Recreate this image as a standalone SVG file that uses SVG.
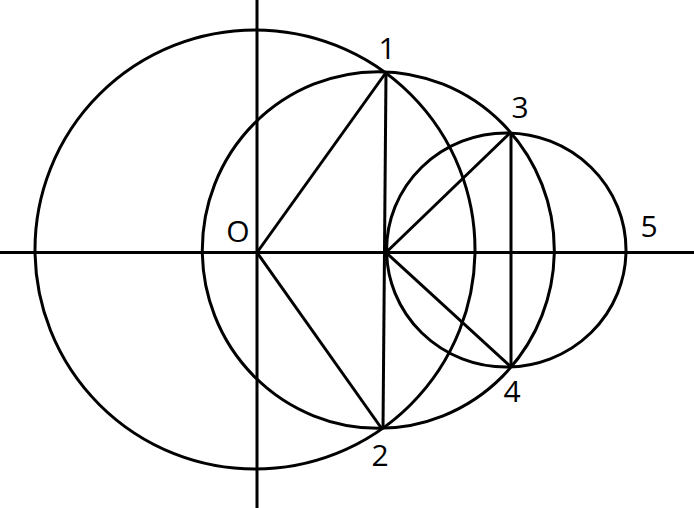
<svg xmlns="http://www.w3.org/2000/svg" width="694" height="508" viewBox="0 0 694 508">
<style>
.s{fill:none;stroke:#000;stroke-width:3}
.t{font-family:"Open Sans","Liberation Sans",sans-serif;font-size:30px;fill:#000;text-anchor:middle}
</style>
<rect width="694" height="508" fill="#fff"/>
<g id="circles">
<ellipse class="s" cx="255" cy="249.5" rx="220" ry="219.5"/>
<ellipse class="s" cx="378.3" cy="250" rx="176" ry="178.3"/>
<ellipse class="s" cx="506.3" cy="250" rx="119.7" ry="117"/>
</g>
<g id="connectors">
<line class="s" x1="0" y1="252.5" x2="694" y2="252.5"/>
<line class="s" x1="257" y1="0" x2="257" y2="508"/>
<line class="s" x1="257" y1="252.5" x2="386" y2="72.5"/>
<line class="s" x1="257" y1="252.5" x2="382" y2="429"/>
<line class="s" x1="386" y1="72.5" x2="383" y2="429"/>
<line class="s" x1="386" y1="252.5" x2="510" y2="133"/>
<line class="s" x1="386" y1="252.5" x2="511" y2="367"/>
<line class="s" x1="511" y1="133" x2="511" y2="367"/>
</g>
<g id="labels">
<text id="n1" class="t" x="387" y="59">1</text>
<text id="nO" class="t" x="238" y="242">O</text>
<text id="n3" class="t" x="520" y="118">3</text>
<text id="n5" class="t" x="649" y="237">5</text>
<text id="n4" class="t" x="512" y="402">4</text>
<text id="n2" class="t" x="380" y="466">2</text>
</g>
</svg>
